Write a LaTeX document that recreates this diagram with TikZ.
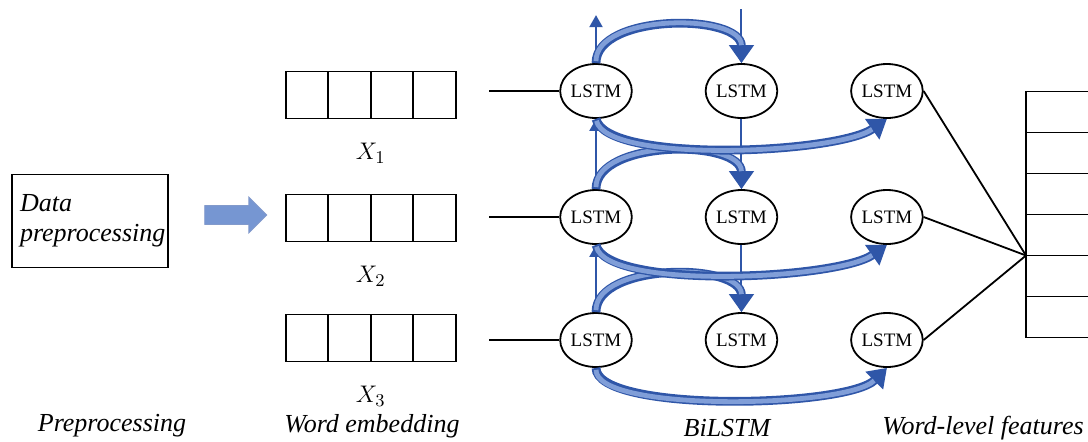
\documentclass[tikz,border=0pt]{standalone}
\usepackage{fontspec}
\setmainfont{Liberation Serif}
\usepackage{xcolor}
\usetikzlibrary{positioning,arrows.meta,shapes.geometric,shapes.arrows}
\definecolor{arrblue}{RGB}{47,86,168}
\definecolor{arclight}{RGB}{128,158,216}
\definecolor{blockblue}{RGB}{118,150,210}

\begin{document}
\begin{tikzpicture}[x=0.5pt, y=-0.5pt,
  lbl/.style={font=\fontsize{13}{15}\selectfont\itshape},
  box/.style={draw, line width=0.9pt, minimum width=78pt, minimum height=46.5pt, text width=70pt, align=left, inner sep=3pt, font=\fontsize{13}{15}\selectfont\itshape},
  cell/.style={draw, line width=0.9pt, minimum width=21.25pt, minimum height=23.5pt, inner sep=0pt, outer sep=0pt},
  feat/.style={draw, line width=0.9pt, minimum width=57pt, minimum height=20.5pt, inner sep=0pt, outer sep=0pt},
  lstm/.style={draw, ellipse, line width=0.9pt, minimum width=35pt, minimum height=27pt, inner sep=0pt, font=\fontsize{9.5}{11}\selectfont},
  link/.style={line width=0.9pt},
  flow/.style={draw=arrblue, line width=1pt, -{Triangle[length=6pt,width=6.5pt]}},
  bigarr/.style={draw=arrblue, line width=4.4pt, -{Triangle[length=9pt,width=12pt]},
    postaction={draw=arclight, line width=2.4pt, -, shorten >=9pt, shorten <=1pt}}]
\clip (0,0) rectangle (1088,441);
% preprocessing
\node[box] (dp) at (90,221) {Data\\preprocessing};
\node[single arrow, draw=arrblue!60, fill=blockblue, minimum height=31pt, text height=4.5pt, text depth=4.5pt,
  single arrow head extend=4.25pt, inner sep=0pt] (ar) at (231,215) {};
% word embedding rows
\foreach \r/\y in {1/95,2/218,3/338} {
  \node[cell] (e\r1) at (307,\y) {};
  \node[cell,right=0pt of e\r1] (e\r2) {};
  \node[cell,right=0pt of e\r2] (e\r3) {};
  \node[cell,right=0pt of e\r3] (e\r4) {};
  \node[lbl, below=9pt of e\r2.south east] (x\r) {$X_\r$};
}
% BiLSTM grid
\node[lstm] (l11) at (596,91) {LSTM};
\node[lstm,right=36pt of l11] (l21) {LSTM};
\node[lstm,right=36pt of l21] (l31) {LSTM};
\node[lstm] (l12) at (596,217) {LSTM};
\node[lstm,right=36pt of l12] (l22) {LSTM};
\node[lstm,right=36pt of l22] (l32) {LSTM};
\node[lstm] (l13) at (596,340) {LSTM};
\node[lstm,right=36pt of l13] (l23) {LSTM};
\node[lstm,right=36pt of l23] (l33) {LSTM};
\foreach \r in {1,2,3} {
  \coordinate[left=35pt of l1\r.west] (s\r);
  \draw[link] (s\r) -- (l1\r.west);
}
% vertical flows
\coordinate[above=24pt of l11.north] (top1);
\coordinate[above=27pt of l21.north] (top2);
\draw[flow] (l13.north) -- (l12.south);
\draw[flow] (l12.north) -- (l11.south);
\draw[flow] (l11.north) -- (top1);
\draw[flow] (top2) -- (l21.north);
\draw[flow] (l21.south) -- (l22.north);
\draw[flow] (l22.south) -- (l23.north);
% skip arcs
\draw[bigarr] (l11.north) .. controls +(0,-50) and +(0,-50) .. (l21.north);
\draw[bigarr] (l12.north) .. controls +(0,-50) and +(0,-50) .. (l22.north);
\draw[bigarr] (l13.north) .. controls +(0,-50) and +(0,-50) .. (l23.north);
\draw[bigarr] (l11.south) .. controls +(10,45) and +(-50,35) .. (l31.south);
\draw[bigarr] (l12.south) .. controls +(10,45) and +(-50,35) .. (l32.south);
\draw[bigarr] (l13.south) .. controls +(0,45) and +(-40,40) .. (l33.south);
% word-level features
\node[feat] (f1) at (1083,112) {};
\node[feat,below=0pt of f1] (f2) {};
\node[feat,below=0pt of f2] (f3) {};
\node[feat,below=0pt of f3] (f4) {};
\node[feat,below=0pt of f4] (f5) {};
\node[feat,below=0pt of f5] (f6) {};
\coordinate (hub) at (f5.north west);
\draw[link] (l31.east) -- (hub);
\draw[link] (l32.east) -- (hub);
\draw[link] (l33.east) -- (hub);
% captions
\node[lbl] (c1) at (112,426) {Preprocessing};
\node[lbl] (c2) at (372,426) {Word embedding};
\node[lbl] (c3) at (727,428) {BiLSTM};
\node[lbl] (c4) at (983,428) {Word-level features};
\end{tikzpicture}
\end{document}
